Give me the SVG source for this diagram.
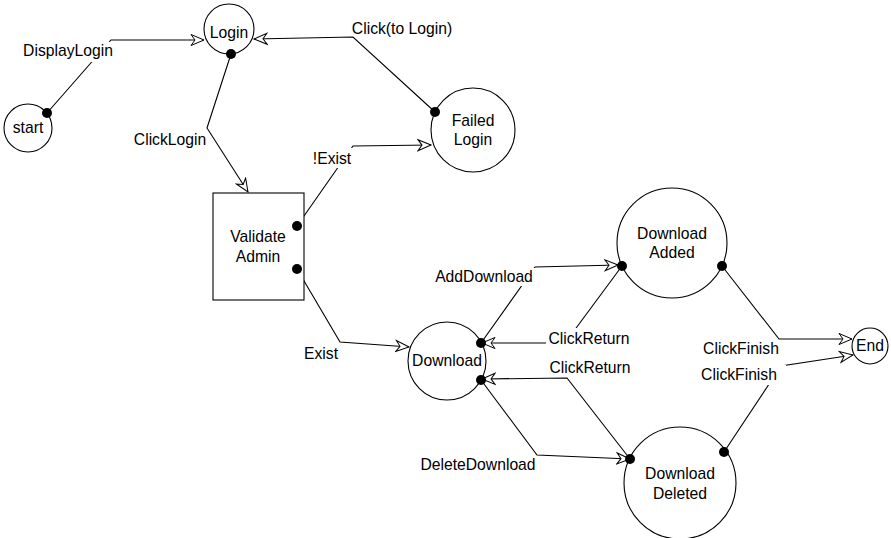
<svg xmlns="http://www.w3.org/2000/svg" width="891" height="538" viewBox="0 0 891 538">
  <style>
    text { font-family: "Liberation Sans", Arial, Helvetica, sans-serif; font-size: 15.7px; fill: #000; text-anchor: middle; }
    .state { fill: #fff; stroke: #000; stroke-width: 1.1; }
    .edge { fill: none; stroke: #000; stroke-width: 1.1; marker-end: url(#open); }
    .dot { fill: #000; }
    .bg { fill: #fff; }
  </style>
  <defs>
    <marker id="open" markerUnits="userSpaceOnUse" viewBox="-14 -7 16 14" markerWidth="16" markerHeight="14" refX="0" refY="0" orient="auto">
      <path d="M0,0 L-13,-5.5 L-9,0 L-13,5.5 Z" fill="#fff" stroke="#000" stroke-width="1" stroke-linejoin="miter"/>
    </marker>
  </defs>

  <rect width="891" height="538" fill="#fff"/>

  <!-- transitions -->
  <g id="connectors">
    <polyline class="edge" points="47,113 111,40 204,40"/>
    <polyline class="edge" points="231,54 207,128 248,192"/>
    <polyline class="edge" points="435,112 353,37 254,39"/>
    <polyline class="edge" points="297,226 353,146 431,145"/>
    <polyline class="edge" points="297,269 340,342 409,347"/>
    <polyline class="edge" points="481,343 535,267 618,265"/>
    <polyline class="edge" points="622,266 565,343 482,343"/>
    <polyline class="edge" points="630,459 567,378 482,379"/>
    <polyline class="edge" points="481,380 537,455 630,459"/>
    <polyline class="edge" points="722,266 779,339 852,339"/>
    <polyline class="edge" points="724,452 781,366 853,355"/>
  </g>

  <!-- transition labels -->
  <g id="labels">
    <rect class="bg" x="21" y="42" width="93" height="20"/>
    <text x="68" y="56">DisplayLogin</text>
    <text x="170" y="145">ClickLogin</text>
    <text x="402" y="34">Click(to Login)</text>
    <rect class="bg" x="310" y="148" width="44" height="20"/>
    <text x="332" y="164">!Exist</text>
    <text x="321" y="359">Exist</text>
    <rect class="bg" x="433" y="268" width="103" height="18"/>
    <text x="484" y="282">AddDownload</text>
    <rect class="bg" x="546" y="328" width="87" height="20"/>
    <text x="589" y="344">ClickReturn</text>
    <text x="590" y="373">ClickReturn</text>
    <text x="478" y="470">DeleteDownload</text>
    <text x="741" y="354">ClickFinish</text>
    <rect class="bg" x="699" y="365" width="87" height="20"/>
    <text x="739" y="380">ClickFinish</text>
  </g>

  <g id="start">
    <circle class="state" cx="28" cy="128" r="24"/>
    <text x="28" y="133">start</text>
    <circle class="dot" cx="47" cy="113" r="5"/>
  </g>

  <g id="login">
    <circle class="state" cx="229" cy="29" r="25"/>
    <text x="229" y="38">Login</text>
    <circle class="dot" cx="231" cy="54" r="5"/>
  </g>

  <g id="failed-login">
    <circle class="state" cx="473" cy="130" r="42"/>
    <text x="473" y="126">Failed</text>
    <text x="473" y="145">Login</text>
    <circle class="dot" cx="435" cy="112" r="5"/>
  </g>

  <g id="validate-admin">
    <rect class="state" x="213" y="193" width="91" height="107"/>
    <text x="258" y="242">Validate</text>
    <text x="258" y="262">Admin</text>
    <circle class="dot" cx="297" cy="226" r="5"/>
    <circle class="dot" cx="297" cy="269" r="5"/>
  </g>

  <g id="download">
    <circle class="state" cx="447" cy="361" r="39"/>
    <text x="447" y="366">Download</text>
    <circle class="dot" cx="481" cy="343" r="5"/>
    <circle class="dot" cx="481" cy="380" r="5"/>
  </g>

  <g id="download-added">
    <circle class="state" cx="672" cy="243" r="55"/>
    <text x="672" y="239">Download</text>
    <text x="672" y="258">Added</text>
    <circle class="dot" cx="622" cy="266" r="5"/>
    <circle class="dot" cx="722" cy="266" r="5"/>
  </g>

  <g id="download-deleted">
    <circle class="state" cx="680" cy="483" r="56"/>
    <text x="680" y="479">Download</text>
    <text x="680" y="499">Deleted</text>
    <circle class="dot" cx="630" cy="459" r="5"/>
    <circle class="dot" cx="724" cy="452" r="5"/>
  </g>

  <g id="end">
    <circle class="state" cx="870" cy="346" r="18"/>
    <text x="870" y="351">End</text>
  </g>
</svg>
